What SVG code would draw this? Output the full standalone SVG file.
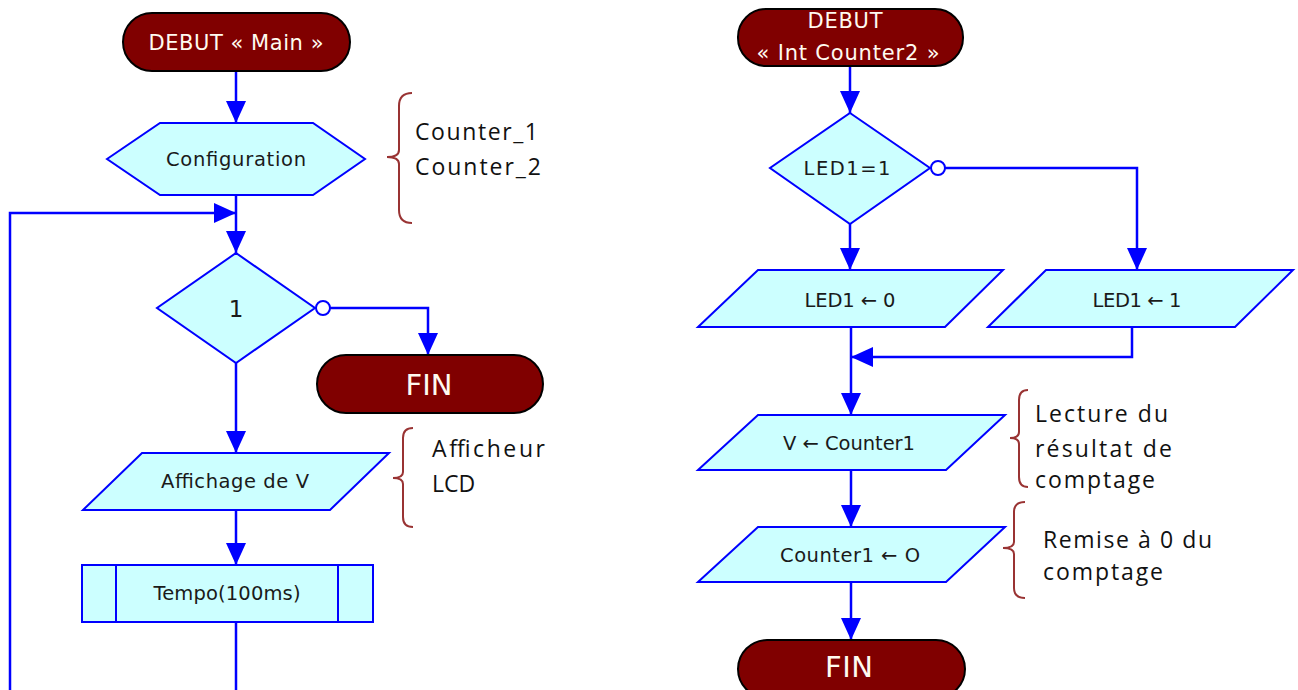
<svg xmlns="http://www.w3.org/2000/svg" width="1298" height="690" viewBox="0 0 1298 690">
  <style>
    .term { fill: #800000; stroke: #000; stroke-width: 2; }
    .term-t { fill: #fffaf0; font-family: "DejaVu Sans", sans-serif; font-size: 21px; text-anchor: middle; }
    .fin-t { font-size: 29px; }
    .box { fill: #ccffff; stroke: #0000ff; stroke-width: 2; }
    .box-t { fill: #1a1a1a; font-family: "DejaVu Sans", sans-serif; font-size: 19.5px; text-anchor: middle; }
    .big-t { font-size: 23px; }
    .wire { fill: none; stroke: #0000ff; stroke-width: 2.5; }
    .dot { fill: #ffffff; stroke: #0000ff; stroke-width: 2; }
    .brace { fill: none; stroke: #993333; stroke-width: 2; }
    .note { fill: #111111; font-family: "Open Sans", "DejaVu Sans", sans-serif; font-size: 23px; }
  </style>
  <defs>
    <marker id="arr" viewBox="0 0 22 20" refX="22" refY="10" markerWidth="22" markerHeight="20" markerUnits="userSpaceOnUse" orient="auto">
      <path d="M0,0 L22,10 L0,20 z" fill="#0000ff"/>
    </marker>
  </defs>
  <rect width="1298" height="690" fill="#ffffff"/>

  <!-- connectors -->
  <g id="connectors">
    <!-- main program -->
    <line class="wire" x1="236" y1="71" x2="236" y2="123" marker-end="url(#arr)"/>
    <line class="wire" x1="236" y1="195" x2="236" y2="253" marker-end="url(#arr)"/>
    <polyline class="wire" points="10,690 10,213 236,213" marker-end="url(#arr)"/>
    <polyline class="wire" points="330,308 428,308 428,355" marker-end="url(#arr)"/>
    <line class="wire" x1="236" y1="363" x2="236" y2="453" marker-end="url(#arr)"/>
    <line class="wire" x1="236" y1="510" x2="236" y2="565" marker-end="url(#arr)"/>
    <line class="wire" x1="236" y1="622" x2="236" y2="690"/>
    <!-- interrupt routine -->
    <line class="wire" x1="850" y1="66" x2="850" y2="113" marker-end="url(#arr)"/>
    <polyline class="wire" points="945,168 1137,168 1137,270" marker-end="url(#arr)"/>
    <line class="wire" x1="850" y1="224" x2="850" y2="270" marker-end="url(#arr)"/>
    <polyline class="wire" points="1132,327 1132,357 851,357" marker-end="url(#arr)"/>
    <line class="wire" x1="851" y1="327" x2="851" y2="415" marker-end="url(#arr)"/>
    <line class="wire" x1="851" y1="470" x2="851" y2="527" marker-end="url(#arr)"/>
    <line class="wire" x1="851" y1="582" x2="851" y2="640" marker-end="url(#arr)"/>
  </g>

  <!-- main program nodes -->
  <g id="debut-main">
    <rect class="term" x="123" y="13" width="227" height="58" rx="29"/>
    <text class="term-t" x="236" y="50" textLength="175">DEBUT « Main »</text>
  </g>
  <g id="configuration">
    <polygon class="box" points="107,159 160,123 313,123 365,159 313,195 160,195"/>
    <text class="box-t" x="236" y="166" textLength="140">Configuration</text>
  </g>
  <g id="test-1">
    <polygon class="box" points="236,253 315,308 236,363 157,308"/>
    <text class="box-t big-t" x="236" y="317">1</text>
    <circle class="dot" cx="323" cy="308" r="7"/>
  </g>
  <g id="fin-main">
    <rect class="term" x="317" y="355" width="226" height="58" rx="29"/>
    <text class="term-t fin-t" x="429" y="395" textLength="47">FIN</text>
  </g>
  <g id="affichage">
    <polygon class="box" points="142,453 389,453 330,510 83,510"/>
    <text class="box-t" x="235" y="488" textLength="148">Affichage de V</text>
  </g>
  <g id="tempo">
    <rect class="box" x="82" y="565" width="291" height="57"/>
    <line class="box" x1="116" y1="565" x2="116" y2="622"/>
    <line class="box" x1="338" y1="565" x2="338" y2="622"/>
    <text class="box-t" x="227" y="600" textLength="147">Tempo(100ms)</text>
  </g>

  <!-- interrupt routine nodes -->
  <g id="debut-int">
    <rect class="term" x="738" y="9" width="225" height="57" rx="28"/>
    <text class="term-t" x="845" y="28" textLength="75">DEBUT</text>
    <text class="term-t" x="848" y="60" textLength="183">« Int Counter2 »</text>
  </g>
  <g id="test-led1">
    <polygon class="box" points="850,113 930,168 850,224 770,168"/>
    <text class="box-t" x="847" y="175" textLength="87">LED1=1</text>
    <circle class="dot" cx="938" cy="168" r="7"/>
  </g>
  <g id="led1-0">
    <polygon class="box" points="758,270 1003,270 945,327 698,327"/>
    <text class="box-t" x="850" y="307" textLength="91">LED1 ← 0</text>
  </g>
  <g id="led1-1">
    <polygon class="box" points="1046,270 1293,270 1235,327 988,327"/>
    <text class="box-t" x="1137" y="307" textLength="89">LED1 ← 1</text>
  </g>
  <g id="lecture">
    <polygon class="box" points="758,415 1005,415 946,470 698,470"/>
    <text class="box-t" x="849" y="450" textLength="132">V ← Counter1</text>
  </g>
  <g id="remise">
    <polygon class="box" points="758,527 1005,527 946,582 698,582"/>
    <text class="box-t" x="850" y="562" textLength="140">Counter1 ← O</text>
  </g>
  <g id="fin-int">
    <rect class="term" x="738" y="640" width="227" height="58" rx="29"/>
    <text class="term-t fin-t" x="849" y="677" textLength="48">FIN</text>
  </g>

  <!-- side notes -->
  <g id="note-config">
    <path class="brace" d="M412,93 Q399,93 399,106 L399,150 Q399,157 387,157 Q399,157 399,164 L399,210 Q399,223 412,223"/>
    <text class="note" x="415" y="140" textLength="123">Counter_1</text>
    <text class="note" x="415" y="175" textLength="126">Counter_2</text>
  </g>
  <g id="note-lcd">
    <path class="brace" d="M413,428 Q403,428 403,438 L403,472 Q403,478 393,478 Q403,478 403,484 L403,517 Q403,527 413,527"/>
    <text class="note" x="432" y="457" textLength="113">Afficheur</text>
    <text class="note" x="432" y="492">LCD</text>
  </g>
  <g id="note-lecture">
    <path class="brace" d="M1028,390 Q1019,390 1019,400 L1019,432 Q1019,438 1010,438 Q1019,438 1019,444 L1019,477 Q1019,487 1028,487"/>
    <text class="note" x="1035" y="422" textLength="133">Lecture du</text>
    <text class="note" x="1035" y="457" textLength="137">résultat de</text>
    <text class="note" x="1035" y="488" textLength="120">comptage</text>
  </g>
  <g id="note-remise">
    <path class="brace" d="M1025,502 Q1014,502 1014,512 L1014,542 Q1014,548 1003,548 Q1014,548 1014,554 L1014,588 Q1014,598 1025,598"/>
    <text class="note" x="1043" y="548" textLength="169">Remise à 0 du</text>
    <text class="note" x="1043" y="580" textLength="120">comptage</text>
  </g>
</svg>
